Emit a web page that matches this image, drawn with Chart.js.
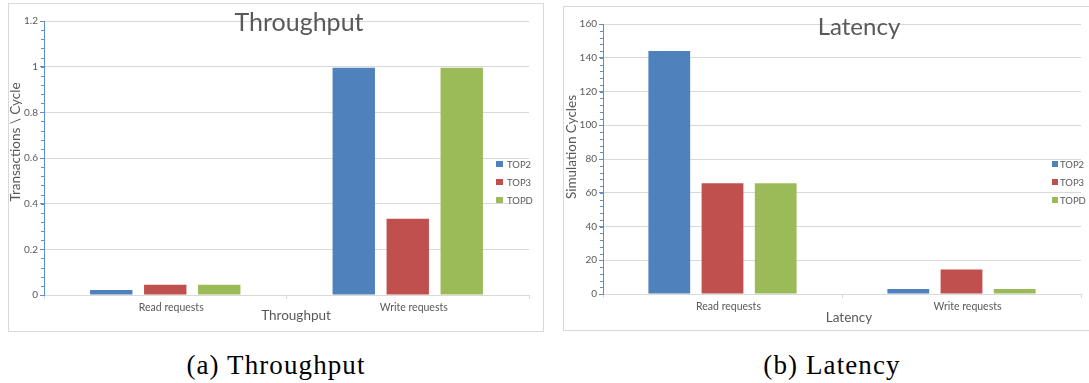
<!DOCTYPE html>
<html>
<head>
<meta charset="utf-8">
<script src="https://cdn.jsdelivr.net/npm/chart.js@4.4.1/dist/chart.umd.min.js"></script>
<style>
  html, body { margin: 0; padding: 0; background: #fff; width: 1089px; height: 383px; overflow: hidden; }
  .panel { position: absolute; border: 1px solid #d9d9d9; box-sizing: border-box; }
  .panel canvas { position: absolute; left: -1px; top: -1px; }
  .cap { position: absolute; font-family: "Liberation Serif", serif; font-size: 27px; color: #000;
         white-space: nowrap; transform: translateX(-50%); letter-spacing: 1.1px; }
</style>
</head>
<body>
<div class="panel" id="pA" style="left:8px; top:3px; width:536px; height:329px;">
  <canvas id="cA" width="536" height="329"></canvas>
</div>
<div class="panel" id="pB" style="left:563px; top:6px; width:530px; height:325px;">
  <canvas id="cB" width="530" height="325"></canvas>
</div>
<div class="cap" style="left:276px; top:350px;">(a) Throughput</div>
<div class="cap" style="left:832px; top:350px;">(b) Latency</div>

<script>
// Request types on the x axis
const categories = ["Read requests", "Write requests"];
const seriesNames = ["TOP2", "TOP3", "TOPD"];
const seriesColors = ["#4f81bd", "#c0504d", "#9bbb59"];

// Throughput (transactions per cycle)
const throughputTOP2 = [0.022, 0.995];
const throughputTOP3 = [0.045, 0.334];
const throughputTOPD = [0.045, 0.995];

// Latency (simulation cycles)
const latencyTOP2 = [144, 3];
const latencyTOP3 = [65.6, 14.5];
const latencyTOPD = [65.6, 3];

const FONT = "Lato, 'Open Sans', sans-serif";
const TEXT = "#595959";
const GRID = "#d9d9d9";
const AXIS_BLUE = "#5b8fd0";

// Draws the in-plot title, axis titles, minor ticks on the value axis and the side legend
const decor = {
  id: "decor",
  afterDraw(chart, args, o) {
    const ctx = chart.ctx;
    const y = chart.scales.y;
    ctx.save();

    // minor ticks on the value axis
    ctx.strokeStyle = AXIS_BLUE;
    ctx.lineWidth = 1;
    const n = Math.round((y.max - y.min) / o.minorStep);
    for (let i = 1; i < n; i++) {
      const v = y.min + i * o.minorStep;
      const px = Math.round(y.getPixelForValue(v)) + 0.5;
      ctx.beginPath();
      ctx.moveTo(y.right - 3, px);
      ctx.lineTo(y.right, px);
      ctx.stroke();
    }

    ctx.fillStyle = TEXT;
    ctx.textAlign = "center";
    ctx.textBaseline = "middle";

    ctx.font = o.titleSize + "px " + FONT;
    ctx.fillText(o.title, o.titleX, o.titleY);

    ctx.font = o.axisTitleSize + "px " + FONT;
    ctx.fillText(o.xTitle, o.xTitleX, o.xTitleY);

    ctx.save();
    ctx.translate(o.yTitleX, o.yTitleY);
    ctx.rotate(-Math.PI / 2);
    ctx.fillText(o.yTitle, 0, 0);
    ctx.restore();

    // legend
    ctx.textAlign = "left";
    ctx.font = o.legendSize + "px " + FONT;
    chart.data.datasets.forEach((ds, i) => {
      const cy = o.legendY + i * o.legendGap;
      ctx.fillStyle = ds.backgroundColor;
      ctx.fillRect(o.legendX, Math.round(cy - o.boxH / 2), o.boxW, o.boxH);
      ctx.fillStyle = TEXT;
      ctx.fillText(ds.label, o.legendTextX, cy + 0.5);
    });
    ctx.restore();
  }
};

function makeChart(id, values, yMax, yStep, fmt, pad, yWidth, xHeight, deco) {
  return new Chart(document.getElementById(id), {
    type: "bar",
    data: {
      labels: categories,
      datasets: seriesNames.map((name, i) => ({
        label: name,
        data: values[i],
        backgroundColor: seriesColors[i],
        borderWidth: 0,
        categoryPercentage: 0.668,
        barPercentage: 0.785
      }))
    },
    options: {
      responsive: false,
      animation: false,
      layout: { padding: pad },
      plugins: { legend: { display: false }, title: { display: false }, tooltip: { enabled: false }, decor: deco },
      scales: {
        x: {
          grid: { display: true, drawOnChartArea: false, offset: true, color: GRID, tickLength: 4 },
          border: { color: GRID },
          ticks: { color: TEXT, font: { family: FONT, size: 10.5 }, padding: 2, labelOffset: 6, maxRotation: 0 },
          afterFit: s => { s.height = xHeight; }
        },
        y: {
          min: 0,
          max: yMax,
          grid: { color: GRID, tickColor: AXIS_BLUE, tickLength: 4 },
          border: { color: AXIS_BLUE },
          ticks: { stepSize: yStep, color: TEXT, font: { family: FONT, size: 10 }, padding: 2, callback: fmt },
          afterFit: s => { s.width = yWidth; }
        }
      }
    },
    plugins: [decor]
  });
}

makeChart("cA", [throughputTOP2, throughputTOP3, throughputTOPD], 1.2, 0.2,
  v => String(Math.round(v * 10) / 10),
  { left: 0, top: 18, right: 15, bottom: 0 }, 36, 37,
  {
    title: "Throughput", titleSize: 25, titleX: 291, titleY: 20,
    xTitle: "Throughput", xTitleX: 288, xTitleY: 313,
    yTitle: "Transactions \\ Cycle", yTitleX: 8, yTitleY: 139,
    axisTitleSize: 13.5, minorStep: 0.04,
    legendX: 488, legendTextX: 499, legendY: 161, legendGap: 18, legendSize: 9.5, boxW: 7, boxH: 6
  });

makeChart("cB", [latencyTOP2, latencyTOP3, latencyTOPD], 160, 20,
  v => String(v),
  { left: 0, top: 18, right: 12, bottom: 0 }, 40, 37,
  {
    title: "Latency", titleSize: 24, titleX: 296, titleY: 21,
    xTitle: "Latency", xTitleX: 286, xTitleY: 312,
    yTitle: "Simulation Cycles", yTitleX: 9, yTitleY: 141,
    axisTitleSize: 13.5, minorStep: 4,
    legendX: 489, legendTextX: 497, legendY: 158, legendGap: 18, legendSize: 9.5, boxW: 6, boxH: 6
  });
</script>
</body>
</html>
